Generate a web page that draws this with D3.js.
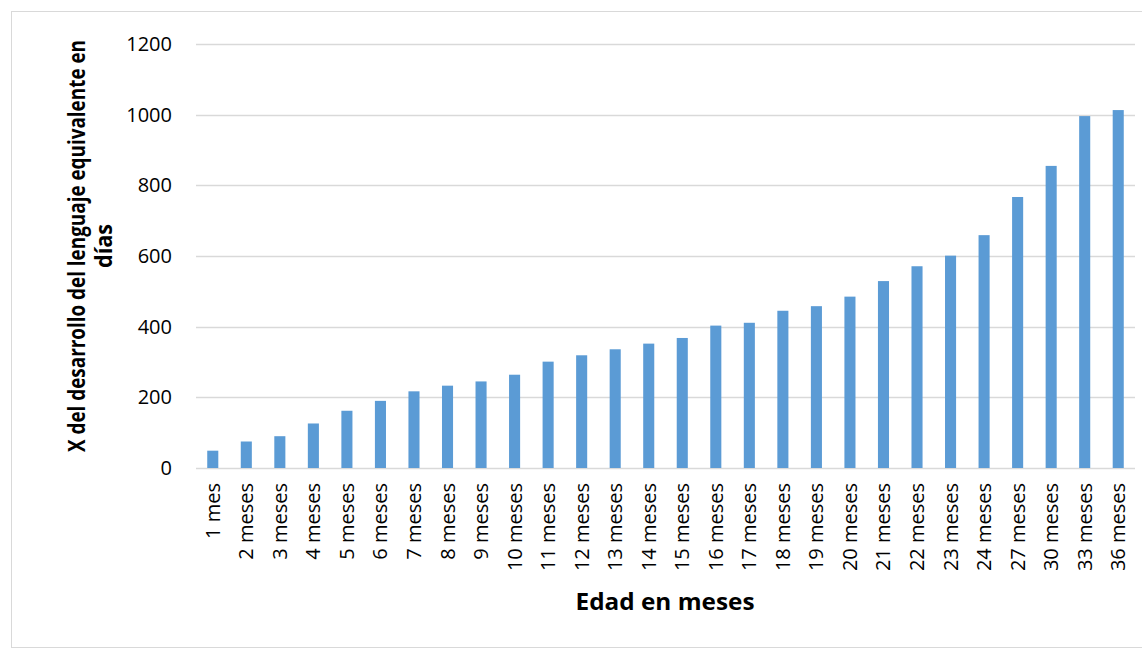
<!DOCTYPE html>
<html>
<head>
<meta charset="utf-8">
<script src="https://d3js.org/d3.v7.min.js"></script>
<style>
  body { margin: 0; background: #fff; }
  text { font-family: "Open Sans", sans-serif; fill: #000; }
</style>
</head>
<body>
<script>
var meses = ["1 mes", "2 meses", "3 meses", "4 meses", "5 meses", "6 meses", "7 meses",
  "8 meses", "9 meses", "10 meses", "11 meses", "12 meses", "13 meses", "14 meses",
  "15 meses", "16 meses", "17 meses", "18 meses", "19 meses", "20 meses", "21 meses",
  "22 meses", "23 meses", "24 meses", "27 meses", "30 meses", "33 meses", "36 meses"];
var dias = [49, 75, 90, 126, 162, 190, 217, 233, 245, 264, 301, 319, 336, 352,
  368, 403, 411, 445, 458, 485, 529, 571, 601, 659, 767, 855, 996, 1013];
var yTicks = [0, 200, 400, 600, 800, 1000, 1200];

var width = 1142, height = 649;
var plotLeft = 196, plotRight = 1135, plotTop = 44, plotBottom = 468;

var svg = d3.select("body").append("svg")
  .attr("width", width)
  .attr("height", height);

// chart area border
svg.append("rect")
  .attr("x", 11.5).attr("y", 11.5)
  .attr("width", 1140).attr("height", 636)
  .attr("fill", "#fff")
  .attr("stroke", "#d9d9d9");

var x = d3.scaleBand()
  .domain(meses)
  .range([plotLeft, plotRight])
  .paddingInner(0.67)
  .paddingOuter(0.335);

var y = d3.scaleLinear()
  .domain([0, 1200])
  .range([plotBottom, plotTop]);

// gridlines
svg.append("g")
  .selectAll("line")
  .data(yTicks)
  .enter().append("line")
  .attr("x1", plotLeft).attr("x2", plotRight)
  .attr("y1", function(d) { return Math.round(y(d)) + 0.5; })
  .attr("y2", function(d) { return Math.round(y(d)) + 0.5; })
  .attr("stroke", "#d9d9d9")
  .attr("stroke-width", 1.3);

// y axis labels
var yAxis = svg.append("g")
  .attr("transform", "translate(" + (plotLeft - 24) + ",0)")
  .call(d3.axisLeft(y).tickValues(yTicks).tickFormat(d3.format("d")).tickSize(0).tickPadding(0));
yAxis.select(".domain").remove();
yAxis.selectAll("text")
  .attr("font-family", "Open Sans")
  .attr("font-size", 20)
  .attr("fill", "#000");

// bars
svg.append("g")
  .selectAll("rect")
  .data(dias)
  .enter().append("rect")
  .attr("x", function(d, i) { return x(meses[i]); })
  .attr("y", function(d) { return y(d); })
  .attr("width", x.bandwidth())
  .attr("height", function(d) { return y(0) - y(d); })
  .attr("fill", "#5b9bd5");

// x axis labels, rotated
var xAxis = svg.append("g")
  .attr("transform", "translate(0," + plotBottom + ")")
  .call(d3.axisBottom(x).tickSize(0).tickPadding(0));
xAxis.select(".domain").remove();
xAxis.selectAll("text")
  .attr("font-family", "Open Sans")
  .attr("font-size", 20)
  .attr("fill", "#000")
  .attr("text-anchor", "end")
  .attr("dy", null)
  .attr("transform", "translate(7,15) rotate(-90)");

// axis titles
svg.append("text")
  .attr("x", 665).attr("y", 610)
  .attr("text-anchor", "middle")
  .attr("font-family", "Liberation Sans")
  .attr("font-weight", "bold")
  .attr("font-size", 23)
  .attr("textLength", 179)
  .attr("lengthAdjust", "spacingAndGlyphs")
  .text("Edad en meses");

var yTitle = svg.append("g")
  .attr("transform", "translate(85,246) rotate(-90)");
yTitle.append("text")
  .attr("x", 0).attr("y", 0)
  .attr("text-anchor", "middle")
  .attr("font-family", "Liberation Sans")
  .attr("font-weight", "bold")
  .attr("font-size", 22.5)
  .attr("textLength", 412)
  .attr("lengthAdjust", "spacingAndGlyphs")
  .text("X del desarrollo del lenguaje equivalente en");
yTitle.append("text")
  .attr("x", 0).attr("y", 27)
  .attr("text-anchor", "middle")
  .attr("font-family", "Liberation Sans")
  .attr("font-weight", "bold")
  .attr("font-size", 22.5)
  .attr("textLength", 44)
  .attr("lengthAdjust", "spacingAndGlyphs")
  .text("días");
</script>
</body>
</html>
